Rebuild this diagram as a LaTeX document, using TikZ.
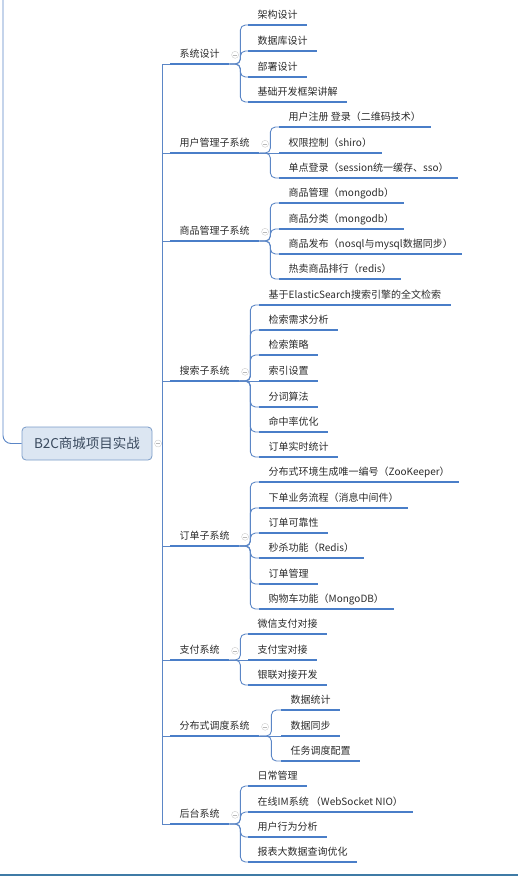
\documentclass[tikz,border=0pt]{standalone}
\usepackage{fontspec}
\setmainfont{Noto Sans CJK SC}
\usepackage{xcolor}
\usetikzlibrary{positioning}
\definecolor{linkblue}{HTML}{5B86C6}
\definecolor{lineblue}{HTML}{4A7EC8}
\definecolor{rootfill}{HTML}{DCE6F2}
\definecolor{rootdraw}{HTML}{7A9CC8}
\definecolor{textgray}{HTML}{2B2B2B}
\definecolor{roottext}{HTML}{3A4A5E}
\definecolor{framecol}{HTML}{3F7BA6}
\tikzset{
    root/.style={draw=rootdraw, fill=rootfill, thick, rounded corners=4pt, minimum width=130pt, minimum height=33pt, inner sep=0pt, font=\fontsize{13.5}{15}\selectfont, text=roottext},
    uline/.style={draw=lineblue, line width=2pt},
    topic/.style={anchor=south west, inner xsep=9.5pt, inner ysep=4pt, text height=8pt, text depth=2pt, font=\fontsize{10}{12}\selectfont, text=textgray,
        append after command={(\tikzlastnode.south west) edge[uline] (\tikzlastnode.south east)}},
    link/.style={draw=linkblue, line width=0.9pt},
    branch/.style={link, rounded corners=5pt},
    fold/.style={circle, draw=gray!40, minimum size=7pt, inner sep=0pt,
        path picture={\draw[gray!55] ([xshift=-2pt]path picture bounding box.center) -- ([xshift=2pt]path picture bounding box.center);}}
}

\begin{document}
\begin{tikzpicture}[x=1pt, y=-1pt]
    \useasboundingbox (0,0) rectangle (518,876);
    % root and trunk
    \node[root] (root) at (87,443.5) {B2C商城项目实战};
    \node[fold, right=2pt of root] (froot) {};
    \coordinate (hub) at (162.5,443.5);
    \coordinate (upper) at (3,0);
    \draw[link, rounded corners=8pt] (upper) |- (root.west);
    \draw[link] (froot) -- (hub);
    % main topics
    \node[topic] (sys)    at (170,64)  {系统设计};
    \node[topic] (user)   at (170,153) {用户管理子系统};
    \node[topic] (goods)  at (170,241) {商品管理子系统};
    \node[topic] (search) at (170,381) {搜索子系统};
    \node[topic] (order)  at (170,546) {订单子系统};
    \node[topic] (pay)    at (170,660) {支付系统};
    \node[topic] (sched)  at (170,736) {分布式调度系统};
    \node[topic] (admin)  at (170,824) {后台系统};
    \foreach \t in {sys,user,goods,search,order,pay,sched,admin}{
        \draw[link] (hub) |- (\t.south west);
        \node[fold, right=2pt of \t.east] (f\t) {};
    }
    % 系统设计
    \node[topic] (sys1) at (248,25)  {架构设计};
    \node[topic] (sys2) at (248,51)  {数据库设计};
    \node[topic] (sys3) at (248,77)  {部署设计};
    \node[topic] (sys4) at (248,102) {基础开发框架讲解};
    \foreach \c in {sys1,sys2,sys3,sys4}
        \draw[branch] (sys.south east) -- ++(11,0) |- (\c.south west);
    % 用户管理子系统
    \node[topic] (user1) at (279,127) {用户注册 登录（二维码技术）};
    \node[topic] (user2) at (279,153) {权限控制（shiro）};
    \node[topic] (user3) at (279,178) {单点登录（session统一缓存、sso）};
    \draw[branch] (user.south east) -- ++(11,0) |- (user1.south west);
    \draw[link] (user.south east) -- (user2.south west);
    \draw[branch] (user.south east) -- ++(11,0) |- (user3.south west);
    % 商品管理子系统
    \node[topic] (goods1) at (279,203) {商品管理（mongodb）};
    \node[topic] (goods2) at (279,229) {商品分类（mongodb）};
    \node[topic] (goods3) at (279,254) {商品发布（nosql与mysql数据同步）};
    \node[topic] (goods4) at (279,279) {热卖商品排行（redis）};
    \foreach \c in {goods1,goods2,goods3,goods4}
        \draw[branch] (goods.south east) -- ++(11,0) |- (\c.south west);
    % 搜索子系统
    \node[topic] (search1) at (259,305) {基于ElasticSearch搜索引擎的全文检索};
    \node[topic] (search2) at (259,330) {检索需求分析};
    \node[topic] (search3) at (259,355) {检索策略};
    \node[topic] (search4) at (259,381) {索引设置};
    \node[topic] (search5) at (259,407) {分词算法};
    \node[topic] (search6) at (259,432) {命中率优化};
    \node[topic] (search7) at (259,457) {订单实时统计};
    \foreach \c in {search1,search2,search3,search5,search6,search7}
        \draw[branch] (search.south east) -- ++(11,0) |- (\c.south west);
    \draw[link] (search.south east) -- (search4.south west);
    % 订单子系统
    \node[topic] (order1) at (259,482) {分布式环境生成唯一编号（ZooKeeper）};
    \node[topic] (order2) at (259,508) {下单业务流程（消息中间件）};
    \node[topic] (order3) at (259,533) {订单可靠性};
    \node[topic] (order4) at (259,558) {秒杀功能（Redis）};
    \node[topic] (order5) at (259,584) {订单管理};
    \node[topic] (order6) at (259,609) {购物车功能（MongoDB）};
    \foreach \c in {order1,order2,order3,order4,order5,order6}
        \draw[branch] (order.south east) -- ++(11,0) |- (\c.south west);
    % 支付系统
    \node[topic] (pay1) at (248,634) {微信支付对接};
    \node[topic] (pay2) at (248,660) {支付宝对接};
    \node[topic] (pay3) at (248,685) {银联对接开发};
    \draw[branch] (pay.south east) -- ++(11,0) |- (pay1.south west);
    \draw[link] (pay.south east) -- (pay2.south west);
    \draw[branch] (pay.south east) -- ++(11,0) |- (pay3.south west);
    % 分布式调度系统
    \node[topic] (sched1) at (281,710) {数据统计};
    \node[topic] (sched2) at (281,736) {数据同步};
    \node[topic] (sched3) at (281,761) {任务调度配置};
    \draw[branch] (sched.south east) -- ++(12,0) |- (sched1.south west);
    \draw[link] (sched.south east) -- (sched2.south west);
    \draw[branch] (sched.south east) -- ++(12,0) |- (sched3.south west);
    % 后台系统
    \node[topic] (admin1) at (248,786) {日常管理};
    \node[topic] (admin2) at (248,812) {在线IM系统 （WebSocket NIO）};
    \node[topic] (admin3) at (248,837) {用户行为分析};
    \node[topic] (admin4) at (248,862) {报表大数据查询优化};
    \foreach \c in {admin1,admin2,admin3,admin4}
        \draw[branch] (admin.south east) -- ++(11,0) |- (\c.south west);
    % frame edge
    \draw[framecol, line width=2pt] (0,875) -- (518,875);
\end{tikzpicture}
\end{document}
